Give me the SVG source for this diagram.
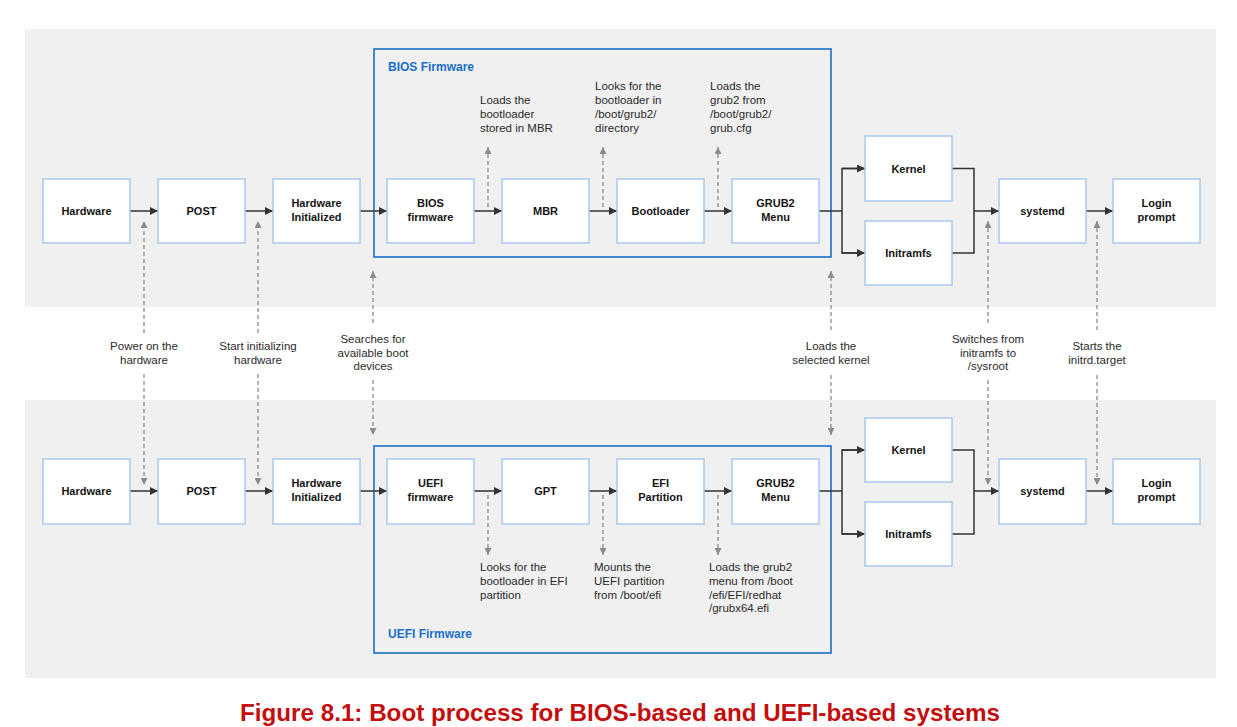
<svg xmlns="http://www.w3.org/2000/svg" width="1237" height="727" viewBox="0 0 1237 727">
<style>
.band{fill:#f0f0f0}
.box{fill:#ffffff;stroke:#a8c8ec;stroke-width:1.5}
.cont{fill:none;stroke:#1b6fc9;stroke-width:1.6}
.bt{font-family:"Liberation Sans",Arial,sans-serif;font-size:11px;font-weight:bold;fill:#151515;text-anchor:middle}
.ct{font-family:"Liberation Sans",Arial,sans-serif;font-size:12px;font-weight:bold;fill:#1b6fc9}
.lt{font-family:"Liberation Sans",Arial,sans-serif;font-size:11.5px;fill:#2a2a2a}
.mt{text-anchor:middle}
.sol{fill:none;stroke:#333333;stroke-width:1.5}
.dsh{fill:none;stroke:#8c8c8c;stroke-width:1.3;stroke-dasharray:4 3}
.cap{font-family:"Liberation Sans",Arial,sans-serif;font-size:24px;font-weight:bold;fill:#c40d0d;text-anchor:middle}
</style>
<defs>
<marker id="arr" viewBox="0 0 8 8" refX="8" refY="4" markerWidth="8" markerHeight="8" markerUnits="userSpaceOnUse" orient="auto">
<path d="M0,0 L8,4 L0,8 z" fill="#333333"/>
</marker>
<marker id="darr" viewBox="0 0 8 8" refX="8" refY="4" markerWidth="7" markerHeight="7" markerUnits="userSpaceOnUse" orient="auto">
<path d="M0,0 L8,4 L0,8 z" fill="#8c8c8c"/>
</marker>
</defs>

<rect class="band" x="25" y="29" width="1191" height="278"/>
<rect class="band" x="25" y="400" width="1191" height="278"/>

<g id="bios-container">
<rect class="cont" x="374" y="49" width="457" height="208"/>
<text class="ct" x="388" y="71">BIOS Firmware</text>
</g>
<g id="uefi-container">
<rect class="cont" x="374" y="446" width="457" height="207"/>
<text class="ct" x="388" y="638">UEFI Firmware</text>
</g>

<g id="connectors">
<!-- top row -->
<line class="sol" x1="130" y1="211" x2="158" y2="211" marker-end="url(#arr)"/>
<line class="sol" x1="245" y1="211" x2="273" y2="211" marker-end="url(#arr)"/>
<line class="sol" x1="360" y1="211" x2="387" y2="211" marker-end="url(#arr)"/>
<line class="sol" x1="474" y1="211" x2="502" y2="211" marker-end="url(#arr)"/>
<line class="sol" x1="589" y1="211" x2="617" y2="211" marker-end="url(#arr)"/>
<line class="sol" x1="704" y1="211" x2="732" y2="211" marker-end="url(#arr)"/>
<polyline class="sol" points="819,211 842,211"/>
<polyline class="sol" points="865,168.5 842,168.5 842,253 865,253"/>
<line class="sol" x1="842" y1="168.5" x2="865" y2="168.5" marker-end="url(#arr)"/>
<line class="sol" x1="842" y1="253" x2="865" y2="253" marker-end="url(#arr)"/>
<polyline class="sol" points="952,168.5 974,168.5 974,253 952,253"/>
<line class="sol" x1="974" y1="211" x2="999" y2="211" marker-end="url(#arr)"/>
<line class="sol" x1="1086" y1="211" x2="1113" y2="211" marker-end="url(#arr)"/>
<!-- bottom row -->
<line class="sol" x1="130" y1="491" x2="158" y2="491" marker-end="url(#arr)"/>
<line class="sol" x1="245" y1="491" x2="273" y2="491" marker-end="url(#arr)"/>
<line class="sol" x1="360" y1="491" x2="387" y2="491" marker-end="url(#arr)"/>
<line class="sol" x1="474" y1="491" x2="502" y2="491" marker-end="url(#arr)"/>
<line class="sol" x1="589" y1="491" x2="617" y2="491" marker-end="url(#arr)"/>
<line class="sol" x1="704" y1="491" x2="732" y2="491" marker-end="url(#arr)"/>
<polyline class="sol" points="819,491 842,491"/>
<polyline class="sol" points="865,450 842,450 842,534 865,534"/>
<line class="sol" x1="842" y1="450" x2="865" y2="450" marker-end="url(#arr)"/>
<line class="sol" x1="842" y1="534" x2="865" y2="534" marker-end="url(#arr)"/>
<polyline class="sol" points="952,450 974,450 974,534 952,534"/>
<line class="sol" x1="974" y1="491" x2="999" y2="491" marker-end="url(#arr)"/>
<line class="sol" x1="1086" y1="491" x2="1113" y2="491" marker-end="url(#arr)"/>
<!-- dashed inside containers -->
<line class="dsh" x1="488" y1="207" x2="488" y2="147" marker-end="url(#darr)"/>
<line class="dsh" x1="603" y1="207" x2="603" y2="147" marker-end="url(#darr)"/>
<line class="dsh" x1="718" y1="207" x2="718" y2="147" marker-end="url(#darr)"/>
<line class="dsh" x1="488" y1="495" x2="488" y2="555" marker-end="url(#darr)"/>
<line class="dsh" x1="603" y1="495" x2="603" y2="555" marker-end="url(#darr)"/>
<line class="dsh" x1="718" y1="495" x2="718" y2="555" marker-end="url(#darr)"/>
<!-- dashed between rows -->
<line class="dsh" x1="144" y1="333" x2="144" y2="221" marker-end="url(#darr)"/>
<line class="dsh" x1="144" y1="374" x2="144" y2="485" marker-end="url(#darr)"/>
<line class="dsh" x1="258" y1="333" x2="258" y2="221" marker-end="url(#darr)"/>
<line class="dsh" x1="258" y1="374" x2="258" y2="485" marker-end="url(#darr)"/>
<line class="dsh" x1="373" y1="323" x2="373" y2="271" marker-end="url(#darr)"/>
<line class="dsh" x1="373" y1="380" x2="373" y2="435" marker-end="url(#darr)"/>
<line class="dsh" x1="831" y1="330" x2="831" y2="271" marker-end="url(#darr)"/>
<line class="dsh" x1="831" y1="375" x2="831" y2="435" marker-end="url(#darr)"/>
<line class="dsh" x1="988" y1="323" x2="988" y2="221" marker-end="url(#darr)"/>
<line class="dsh" x1="988" y1="380" x2="988" y2="485" marker-end="url(#darr)"/>
<line class="dsh" x1="1097" y1="330" x2="1097" y2="221" marker-end="url(#darr)"/>
<line class="dsh" x1="1097" y1="375" x2="1097" y2="485" marker-end="url(#darr)"/>
</g>

<!-- top row nodes -->
<g id="hardware-bios"><rect class="box" x="43" y="179" width="87" height="64"/><text class="bt" x="86.5" y="215">Hardware</text></g>
<g id="post-bios"><rect class="box" x="158" y="179" width="87" height="64"/><text class="bt" x="201.5" y="215">POST</text></g>
<g id="hwinit-bios"><rect class="box" x="273" y="179" width="87" height="64"/><text class="bt" x="316.5" y="207">Hardware</text><text class="bt" x="316.5" y="221">Initialized</text></g>
<g id="bios-firmware"><rect class="box" x="387" y="179" width="87" height="64"/><text class="bt" x="430.5" y="207">BIOS</text><text class="bt" x="430.5" y="221">firmware</text></g>
<g id="mbr"><rect class="box" x="502" y="179" width="87" height="64"/><text class="bt" x="545.5" y="215">MBR</text></g>
<g id="bootloader"><rect class="box" x="617" y="179" width="87" height="64"/><text class="bt" x="660.5" y="215">Bootloader</text></g>
<g id="grub-bios"><rect class="box" x="732" y="179" width="87" height="64"/><text class="bt" x="775.5" y="207">GRUB2</text><text class="bt" x="775.5" y="221">Menu</text></g>
<g id="kernel-bios"><rect class="box" x="865" y="136" width="87" height="65"/><text class="bt" x="908.5" y="172.5">Kernel</text></g>
<g id="initramfs-bios"><rect class="box" x="865" y="221" width="87" height="64"/><text class="bt" x="908.5" y="257">Initramfs</text></g>
<g id="systemd-bios"><rect class="box" x="999" y="179" width="87" height="64"/><text class="bt" x="1042.5" y="215">systemd</text></g>
<g id="login-bios"><rect class="box" x="1113" y="179" width="87" height="64"/><text class="bt" x="1156.5" y="207">Login</text><text class="bt" x="1156.5" y="221">prompt</text></g>

<!-- bottom row nodes -->
<g id="hardware-uefi"><rect class="box" x="43" y="459" width="87" height="65"/><text class="bt" x="86.5" y="495">Hardware</text></g>
<g id="post-uefi"><rect class="box" x="158" y="459" width="87" height="65"/><text class="bt" x="201.5" y="495">POST</text></g>
<g id="hwinit-uefi"><rect class="box" x="273" y="459" width="87" height="65"/><text class="bt" x="316.5" y="487">Hardware</text><text class="bt" x="316.5" y="501">Initialized</text></g>
<g id="uefi-firmware"><rect class="box" x="387" y="459" width="87" height="65"/><text class="bt" x="430.5" y="487">UEFI</text><text class="bt" x="430.5" y="501">firmware</text></g>
<g id="gpt"><rect class="box" x="502" y="459" width="87" height="65"/><text class="bt" x="545.5" y="495">GPT</text></g>
<g id="efi-partition"><rect class="box" x="617" y="459" width="87" height="65"/><text class="bt" x="660.5" y="487">EFI</text><text class="bt" x="660.5" y="501">Partition</text></g>
<g id="grub-uefi"><rect class="box" x="732" y="459" width="87" height="65"/><text class="bt" x="775.5" y="487">GRUB2</text><text class="bt" x="775.5" y="501">Menu</text></g>
<g id="kernel-uefi"><rect class="box" x="865" y="418" width="87" height="64"/><text class="bt" x="908.5" y="454">Kernel</text></g>
<g id="initramfs-uefi"><rect class="box" x="865" y="502" width="87" height="64"/><text class="bt" x="908.5" y="538">Initramfs</text></g>
<g id="systemd-uefi"><rect class="box" x="999" y="459" width="87" height="65"/><text class="bt" x="1042.5" y="495">systemd</text></g>
<g id="login-uefi"><rect class="box" x="1113" y="459" width="87" height="65"/><text class="bt" x="1156.5" y="487">Login</text><text class="bt" x="1156.5" y="501">prompt</text></g>

<!-- annotations inside BIOS -->
<g id="labels">
<text class="lt" x="480" y="104">Loads the</text>
<text class="lt" x="480" y="118">bootloader</text>
<text class="lt" x="480" y="132">stored in MBR</text>
<text class="lt" x="595" y="90">Looks for the</text>
<text class="lt" x="595" y="104">bootloader in</text>
<text class="lt" x="595" y="118">/boot/grub2/</text>
<text class="lt" x="595" y="132">directory</text>
<text class="lt" x="710" y="90">Loads the</text>
<text class="lt" x="710" y="104">grub2 from</text>
<text class="lt" x="710" y="118">/boot/grub2/</text>
<text class="lt" x="710" y="132">grub.cfg</text>

<text class="lt" x="480" y="571">Looks for the</text>
<text class="lt" x="480" y="585">bootloader in EFI</text>
<text class="lt" x="480" y="599">partition</text>
<text class="lt" x="594" y="571">Mounts the</text>
<text class="lt" x="594" y="585">UEFI partition</text>
<text class="lt" x="594" y="599">from /boot/efi</text>
<text class="lt" x="709" y="571">Loads the grub2</text>
<text class="lt" x="709" y="585">menu from /boot</text>
<text class="lt" x="709" y="599">/efi/EFI/redhat</text>
<text class="lt" x="709" y="612">/grubx64.efi</text>

<text class="lt mt" x="144" y="350">Power on the</text>
<text class="lt mt" x="144" y="364">hardware</text>
<text class="lt mt" x="258" y="350">Start initializing</text>
<text class="lt mt" x="258" y="364">hardware</text>
<text class="lt mt" x="373" y="343">Searches for</text>
<text class="lt mt" x="373" y="357">available boot</text>
<text class="lt mt" x="373" y="370">devices</text>
<text class="lt mt" x="831" y="350">Loads the</text>
<text class="lt mt" x="831" y="364">selected kernel</text>
<text class="lt mt" x="988" y="343">Switches from</text>
<text class="lt mt" x="988" y="357">initramfs to</text>
<text class="lt mt" x="988" y="370">/sysroot</text>
<text class="lt mt" x="1097" y="350">Starts the</text>
<text class="lt mt" x="1097" y="364">initrd.target</text>
</g>

<text class="cap" x="620" y="721" textLength="760" lengthAdjust="spacingAndGlyphs">Figure 8.1: Boot process for BIOS-based and UEFI-based systems</text>
</svg>
